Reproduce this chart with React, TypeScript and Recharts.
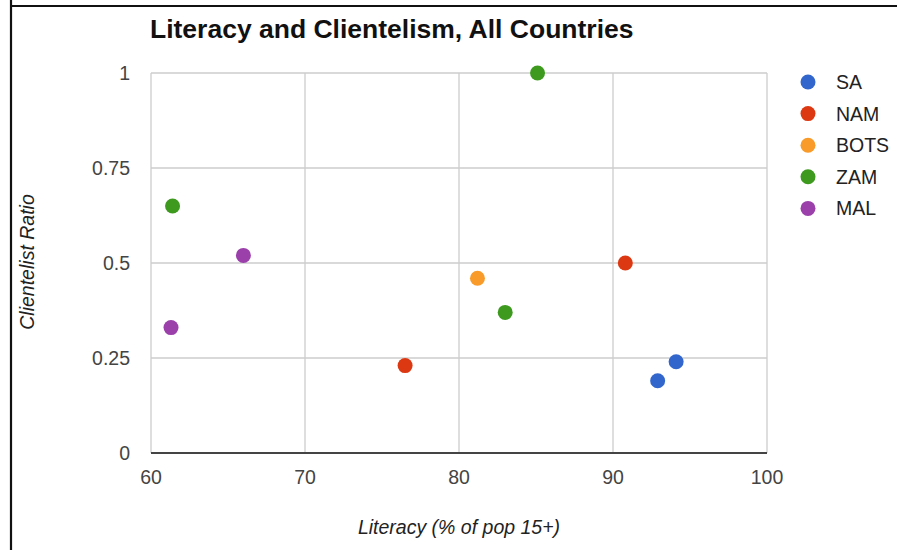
import React from 'react';
import { ScatterChart, Scatter, XAxis, YAxis, CartesianGrid } from 'recharts';

const seriesNames = ['SA', 'NAM', 'BOTS', 'ZAM', 'MAL'];
const seriesColors = ['#3366cc', '#dc3912', '#f99b2a', '#3d9a1f', '#9b3fab'];

const saData = [
  { x: 92.9, y: 0.19 },
  { x: 94.1, y: 0.24 },
];
const namData = [
  { x: 76.5, y: 0.23 },
  { x: 90.8, y: 0.5 },
];
const botsData = [{ x: 81.2, y: 0.46 }];
const zamData = [
  { x: 85.1, y: 1.0 },
  { x: 61.4, y: 0.65 },
  { x: 83.0, y: 0.37 },
];
const malData = [
  { x: 66.0, y: 0.52 },
  { x: 61.3, y: 0.33 },
];
const allSeries = [saData, namData, botsData, zamData, malData];

const xTicks = [60, 70, 80, 90, 100];
const yTicks = [0, 0.25, 0.5, 0.75, 1];

const FONT = '"Liberation Sans", Arial, Helvetica, sans-serif';

const makeDot = (color: string) => (props: any) => (
  <circle cx={props.cx} cy={props.cy} r={7.5} fill={color} />
);

export default function App() {
  return (
    <div style={{ position: 'absolute', left: 0, top: 0, width: 897, height: 550, background: '#fff', overflow: 'hidden', fontFamily: FONT }}>
      <ScatterChart width={897} height={550} margin={{ top: 73, right: 130, bottom: 67, left: 0 }}>
        <CartesianGrid stroke="#cccccc" strokeWidth={1.3} />
        <XAxis
          type="number"
          dataKey="x"
          domain={[60, 100]}
          ticks={xTicks}
          interval={0}
          height={30}
          tickLine={false}
          tickSize={0}
          tickMargin={17}
          axisLine={{ stroke: '#444', strokeWidth: 2.2 }}
          tick={{ fill: '#444', fontSize: 19.5, fontFamily: FONT }}
        />
        <YAxis
          type="number"
          dataKey="y"
          domain={[0, 1]}
          ticks={yTicks}
          interval={0}
          width={151}
          tickLine={false}
          tickSize={0}
          tickMargin={21}
          axisLine={false}
          tick={{ fill: '#444', fontSize: 19.5, fontFamily: FONT }}
        />
        {allSeries.map((d, i) => (
          <Scatter
            key={seriesNames[i]}
            name={seriesNames[i]}
            data={d}
            fill={seriesColors[i]}
            shape={makeDot(seriesColors[i])}
            isAnimationActive={false}
          />
        ))}
      </ScatterChart>
      <svg width={897} height={550} style={{ position: 'absolute', left: 0, top: 0, pointerEvents: 'none' }}>
        <line x1={11} y1={0} x2={11} y2={550} stroke="#111" strokeWidth={2.2} />
        <line x1={10} y1={6} x2={897} y2={6} stroke="#111" strokeWidth={2.2} />
        <text x={150} y={38} fontFamily={FONT} fontWeight="bold" fontSize={26.5} fill="#111">
          Literacy and Clientelism, All Countries
        </text>
        <text x={459} y={534} textAnchor="middle" fontFamily={FONT} fontStyle="italic" fontSize={19.5} fill="#222">
          Literacy (% of pop 15+)
        </text>
        <text
          x={27}
          y={262}
          transform="rotate(-90 27 262)"
          textAnchor="middle"
          dominantBaseline="central"
          fontFamily={FONT}
          fontStyle="italic"
          fontSize={19.5}
          fill="#222"
        >
          Clientelist Ratio
        </text>
        {seriesNames.map((n, i) => (
          <g key={n}>
            <circle cx={808} cy={82 + i * 31.6} r={7.5} fill={seriesColors[i]} />
            <text x={836} y={82 + i * 31.6} dominantBaseline="central" fontFamily={FONT} fontSize={19.5} fill="#222">
              {n}
            </text>
          </g>
        ))}
      </svg>
    </div>
  );
}
